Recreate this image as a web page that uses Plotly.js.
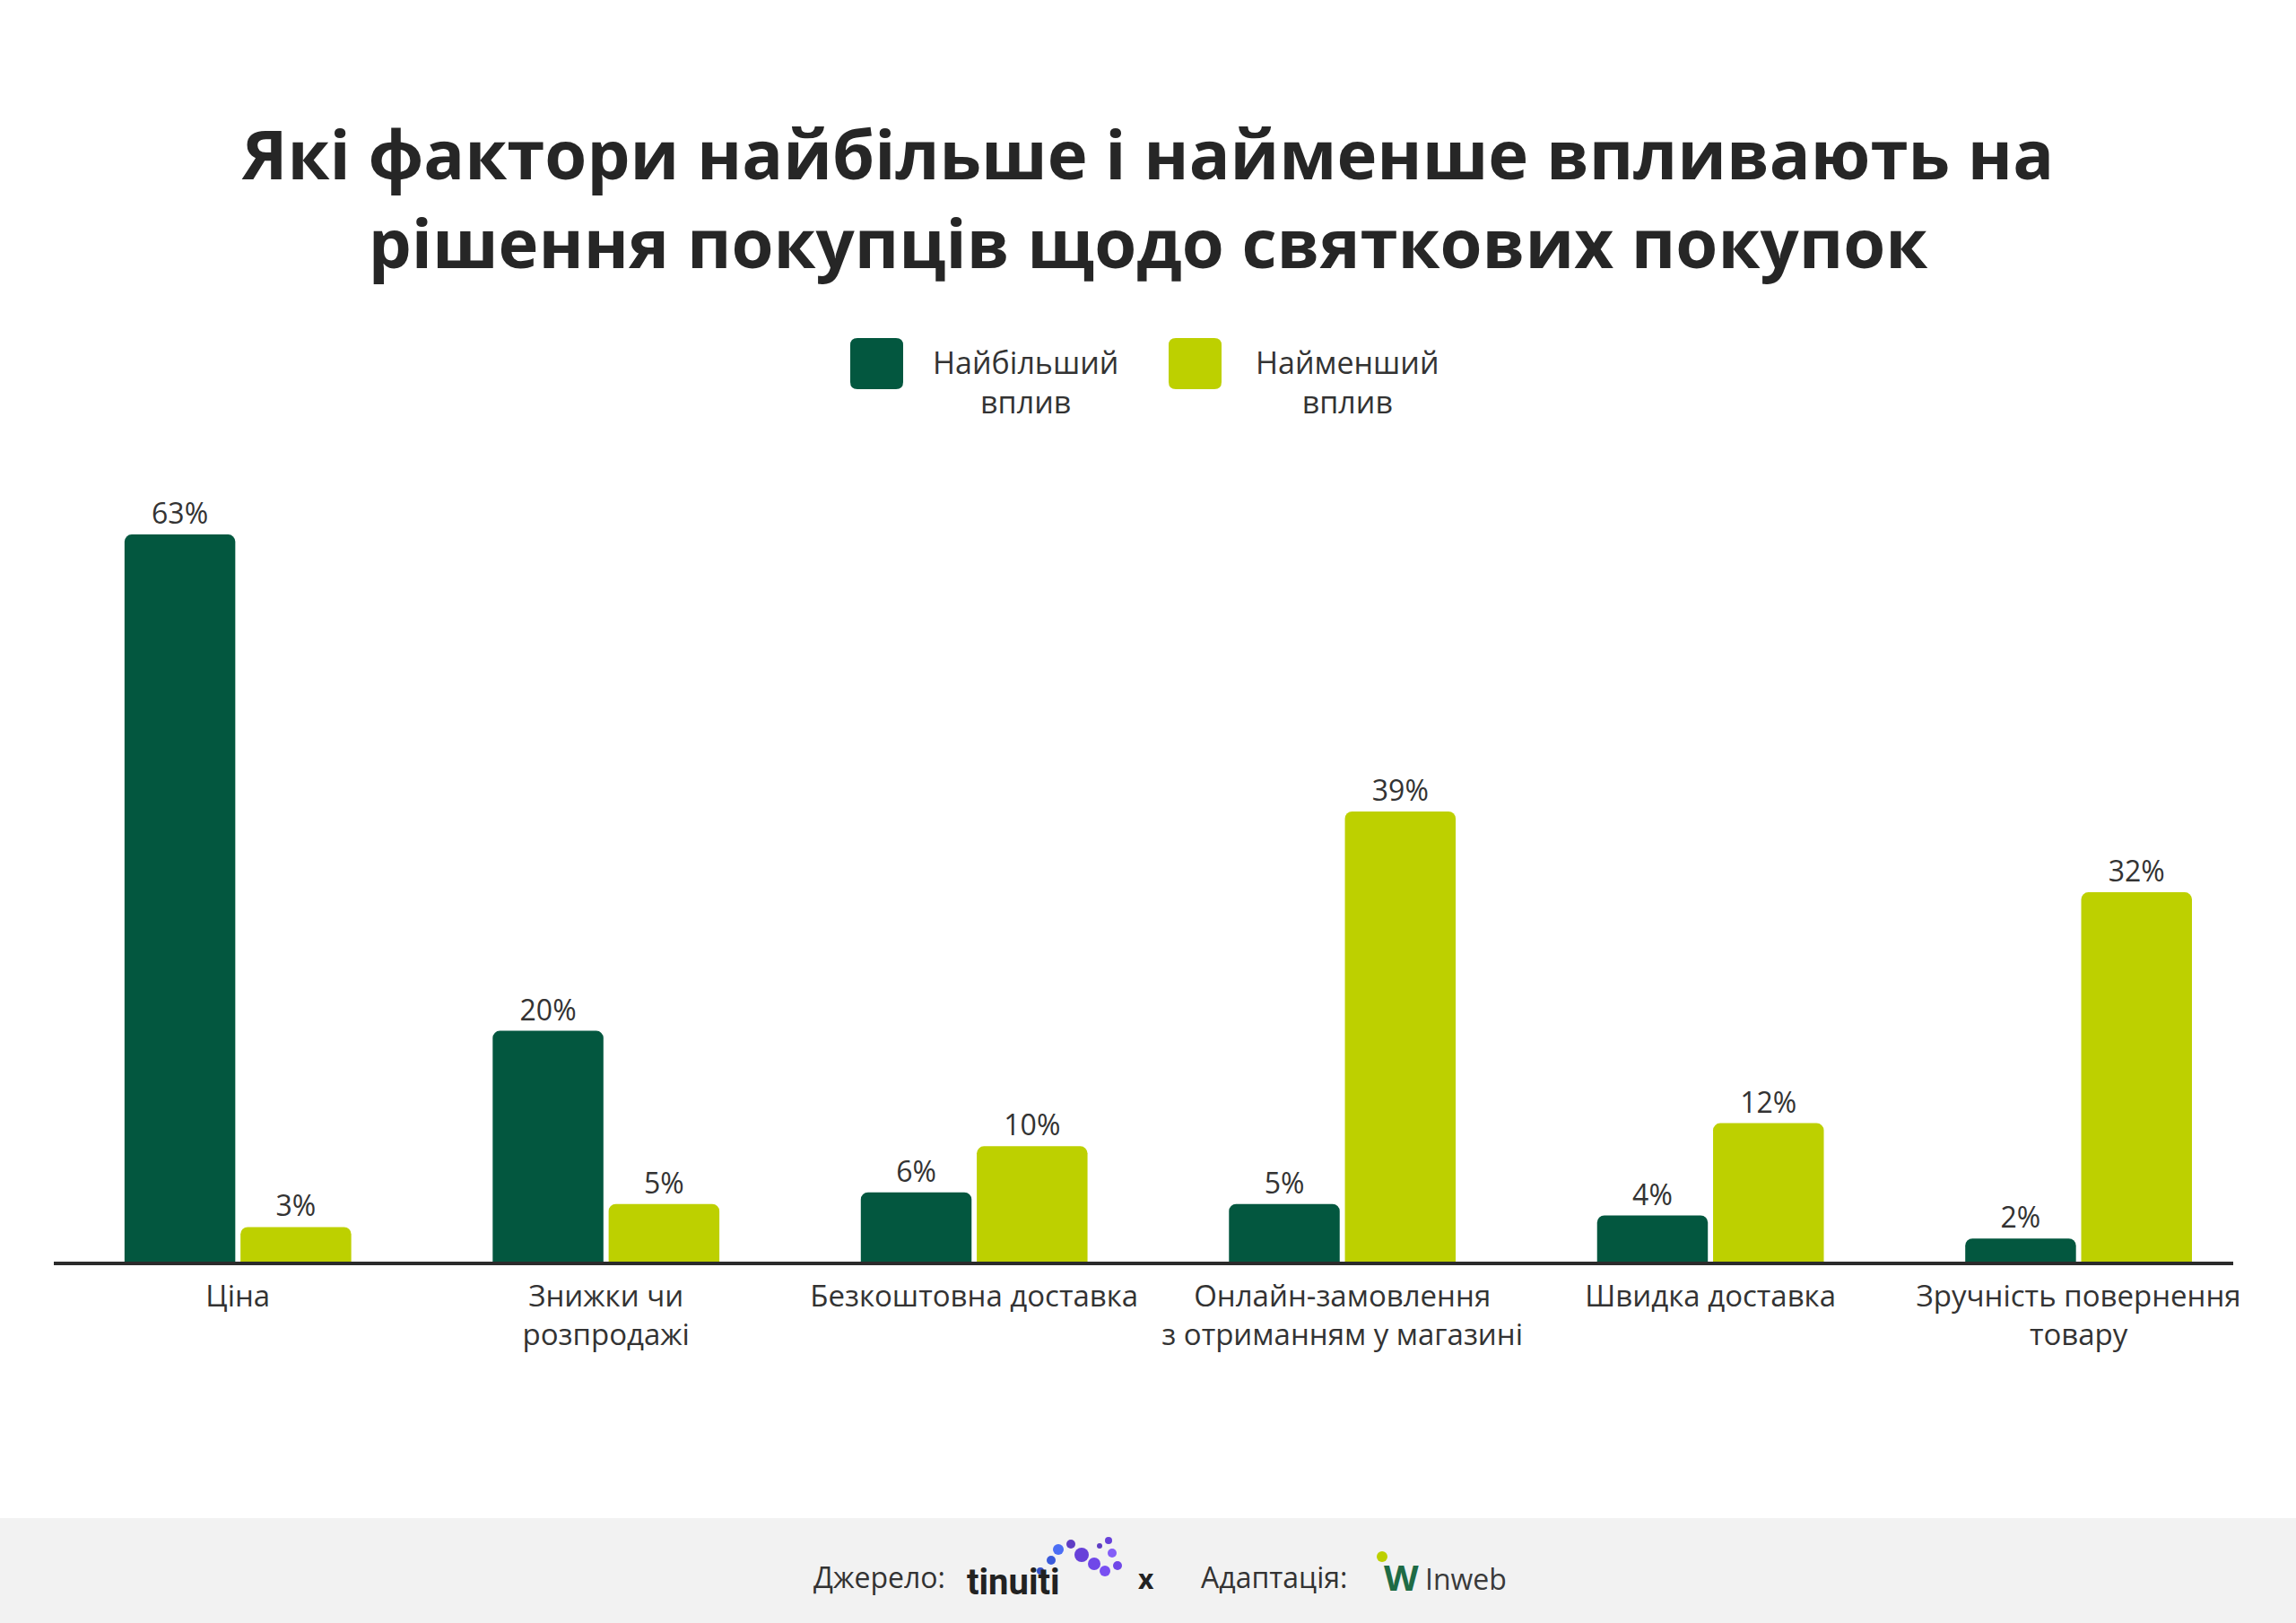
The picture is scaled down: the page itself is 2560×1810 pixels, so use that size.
<!DOCTYPE html>
<html>
<head>
<meta charset="utf-8">
<script src="https://cdn.plot.ly/plotly-3.0.1.min.js"></script>
<style>html,body{margin:0;padding:0;background:#fff;}#chart{width:2560px;height:1810px;}</style>
</head>
<body>
<div id="chart"></div>
<script>
// ---- data ----
const categories = ['Ціна', 'Знижки чи<br>розпродажі', 'Безкоштовна доставка', 'Онлайн-замовлення<br>з отриманням у магазині', 'Швидка доставка', 'Зручність повернення<br>товару'];
const mostImpact = [63, 20, 6, 5, 4, 2];
const leastImpact = [3, 5, 10, 39, 12, 32];
const seriesNames = ['Найбільший<br>вплив', 'Найменший<br>вплив'];
const titleText = 'Які фактори найбільше і найменше впливають на<br>рішення покупців щодо святкових покупок';
const footerSource = 'Джерело:';
const footerAdapt = 'Адаптація:';

// ---- style ----
const DARK = '#03573F';
const LIME = '#BDD000';
const TXT = '#333333';
const FONT = '"Open Sans", "Noto Sans", sans-serif';

// layout geometry helpers (pixel -> paper)
const W = 2560, H = 1810;
const M = {l: 60, r: 70, t: 506, b: 403};
const PW = W - M.l - M.r, PH = H - M.t - M.b;
const px = v => (v - M.l) / PW;
const py = v => (H - M.b - v) / PH;

function roundRect(x0, y0, x1, y1, r) {
  const rx = r / PW, ry = r / PH;
  const a = px(x0), b = px(x1), c = py(y0), d = py(y1);
  return `M${a + rx},${c} L${b - rx},${c} Q${b},${c} ${b},${c - ry} L${b},${d + ry} Q${b},${d} ${b - rx},${d} L${a + rx},${d} Q${a},${d} ${a},${d + ry} L${a},${c - ry} Q${a},${c} ${a + rx},${c} Z`;
}

const traces = [
  {type: 'bar', name: seriesNames[0], x: categories, y: mostImpact, marker: {color: DARK, cornerradius: 8},
   texttemplate: '%{y}%', textposition: 'outside', cliponaxis: false,
   textfont: {family: FONT, size: 32, color: TXT}, hoverinfo: 'skip'},
  {type: 'bar', name: seriesNames[1], x: categories, y: leastImpact, marker: {color: LIME, cornerradius: 8},
   texttemplate: '%{y}%', textposition: 'outside', cliponaxis: false,
   textfont: {family: FONT, size: 32, color: TXT}, hoverinfo: 'skip'}
];

const shapes = [
  // footer band
  {type: 'rect', xref: 'paper', yref: 'paper', x0: px(-10), x1: px(W + 10), y0: py(1693), y1: py(H + 10),
   fillcolor: '#F2F2F2', line: {width: 0}, layer: 'below'},
  // legend swatches
  {type: 'path', xref: 'paper', yref: 'paper', path: roundRect(948, 377, 1007, 434, 8), fillcolor: DARK, line: {width: 0}},
  {type: 'path', xref: 'paper', yref: 'paper', path: roundRect(1303, 377, 1362, 434, 8), fillcolor: LIME, line: {width: 0}}
];

// tinuiti logo dots (decorative)
const dots = [[1172,1740,5,'#3b5bdb'],[1180,1728,6,'#4c6ef5'],[1194,1722,5,'#5f3dc4'],[1206,1734,8,'#6741d9'],[1220,1744,7,'#7048e8'],[1232,1752,6,'#7950f2'],[1240,1732,5,'#845ef7'],[1236,1718,4,'#6741d9'],[1226,1724,3,'#5f3dc4'],[1246,1746,5,'#7048e8'],[1160,1752,4,'#364fc7']];
dots.forEach(d => shapes.push({type: 'circle', xref: 'paper', yref: 'paper', x0: px(d[0]-d[2]), x1: px(d[0]+d[2]), y0: py(d[1]-d[2]), y1: py(d[1]+d[2]), fillcolor: d[3], line: {width: 0}}));
// inweb dot
shapes.push({type: 'circle', xref: 'paper', yref: 'paper', x0: px(1535), x1: px(1547), y0: py(1742), y1: py(1730), fillcolor: LIME, line: {width: 0}});

const annotations = [
  {text: seriesNames[0], xref: 'paper', yref: 'paper', x: px(1143), y: py(426), xanchor: 'center', yanchor: 'middle', showarrow: false, align: 'center', font: {family: FONT, size: 34, color: TXT}},
  {text: seriesNames[1], xref: 'paper', yref: 'paper', x: px(1502), y: py(426), xanchor: 'center', yanchor: 'middle', showarrow: false, align: 'center', font: {family: FONT, size: 34, color: TXT}},
  {text: footerSource, xref: 'paper', yref: 'paper', x: px(980), y: py(1758), xanchor: 'center', yanchor: 'middle', showarrow: false, font: {family: FONT, size: 32, color: TXT}},
  {text: '<b>tinuiti</b>', xref: 'paper', yref: 'paper', x: px(1130), y: py(1764), xanchor: 'center', yanchor: 'middle', showarrow: false, font: {family: '"Liberation Sans Narrow", "Roboto", sans-serif', size: 40, color: '#222'}},
  {text: '<b>x</b>', xref: 'paper', yref: 'paper', x: px(1278), y: py(1760), xanchor: 'center', yanchor: 'middle', showarrow: false, font: {family: FONT, size: 30, color: '#222'}},
  {text: footerAdapt, xref: 'paper', yref: 'paper', x: px(1420), y: py(1758), xanchor: 'center', yanchor: 'middle', showarrow: false, font: {family: FONT, size: 32, color: TXT}},
  {text: '<b>W</b>', xref: 'paper', yref: 'paper', x: px(1562), y: py(1758), xanchor: 'center', yanchor: 'middle', showarrow: false, font: {family: FONT, size: 40, color: '#1E6B45'}},
  {text: 'Inweb', xref: 'paper', yref: 'paper', x: px(1634), y: py(1760), xanchor: 'center', yanchor: 'middle', showarrow: false, font: {family: FONT, size: 32, color: '#3a3a3a'}}
];

const layout = {
  width: W, height: H,
  margin: M,
  paper_bgcolor: '#ffffff', plot_bgcolor: '#ffffff',
  showlegend: false,
  barmode: 'group', bargap: 0.37, bargroupgap: 0.045,
  title: {text: titleText, x: 0.5, xanchor: 'center', xref: 'container', y: 1 - 200 / H, yanchor: 'middle', yref: 'container',
          font: {family: FONT, size: 76, weight: 700, color: '#262626'}},
  xaxis: {type: 'category', range: [-0.5, 5.42], showline: true, linecolor: '#2b2b2b', linewidth: 4,
          ticks: '', showgrid: false, zeroline: false, fixedrange: true, ticklabelstandoff: 6,
          tickfont: {family: FONT, size: 33, color: TXT}},
  yaxis: {range: [0, 70], visible: false, showgrid: false, zeroline: false, fixedrange: true},
  shapes: shapes,
  annotations: annotations
};

Plotly.newPlot('chart', traces, layout, {displayModeBar: false, staticPlot: true});
</script>
</body>
</html>
